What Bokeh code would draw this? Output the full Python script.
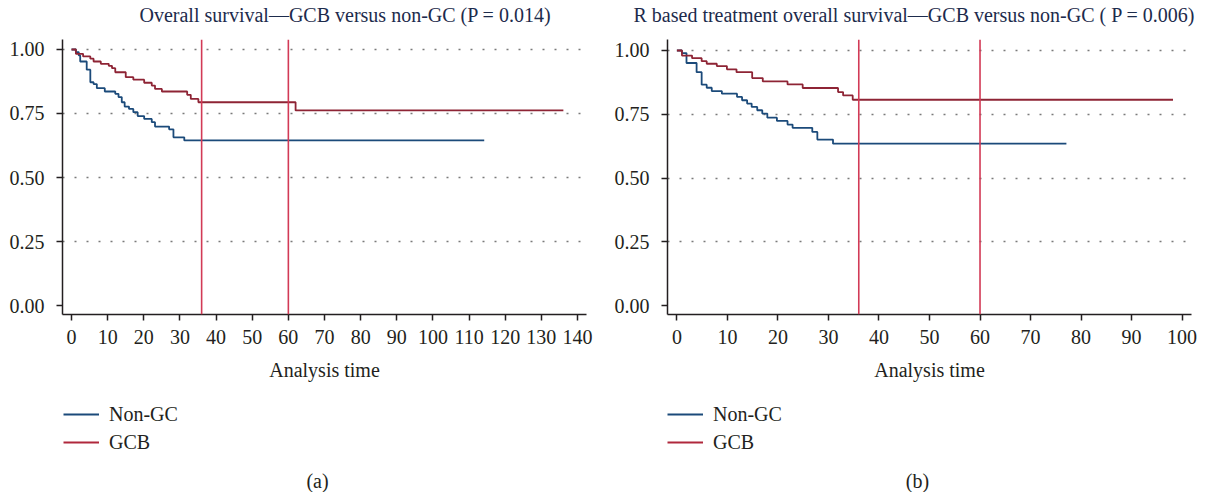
from bokeh.plotting import figure
from bokeh.layouts import row, column
from bokeh.models import (Range1d, FixedTicker, NumeralTickFormatter, Span,
                          Legend, LegendItem, Label)
from bokeh.embed import file_html
from bokeh.resources import INLINE

FONT = "Liberation Serif"
TXT = "#231f20"
TITLE_C = "#1d2b4c"
BLUE = "#1b4a7a"
RED = "#8e2435"
LEG_RED = "#b0283c"
VRED = "#d23a56"
FS = "20px"

# ---------------- data ----------------
# Panel (a): overall survival
a_nongc_t = [1.2, 2.0, 2.4, 4.2, 5.2, 6.1, 7.0, 9.2, 12.1, 13.0, 13.9, 14.7, 15.9,
             17.1, 18.3, 20.1, 22.2, 23.1, 27.0, 28.2, 31.2]
a_nongc_s = [0.990, 0.977, 0.953, 0.921, 0.872, 0.865, 0.849, 0.836, 0.827, 0.814,
             0.794, 0.777, 0.768, 0.755, 0.740, 0.729, 0.716, 0.699, 0.688, 0.657, 0.645]
a_nongc_end = 114.2
a_gcb_t = [1.2, 3.2, 5.2, 6.1, 8.1, 10.3, 11.2, 12.1, 15.0, 17.1, 20.1, 22.2, 23.1,
           25.0, 32.0, 33.0, 35.1, 62.0]
a_gcb_s = [0.983, 0.973, 0.964, 0.953, 0.944, 0.936, 0.927, 0.911, 0.892, 0.882,
           0.870, 0.859, 0.846, 0.836, 0.823, 0.807, 0.794, 0.762]
a_gcb_end = 136.1

# Panel (b): R based treatment overall survival
b_nongc_t = [1.0, 1.9, 3.9, 4.9, 5.9, 6.9, 8.9, 11.9, 12.9, 13.9, 14.8, 15.9, 16.9,
             17.9, 19.8, 21.9, 22.9, 26.8, 27.8, 30.9]
b_nongc_s = [0.990, 0.951, 0.915, 0.866, 0.854, 0.841, 0.831, 0.818, 0.805, 0.792,
             0.779, 0.766, 0.753, 0.737, 0.724, 0.710, 0.697, 0.681, 0.651, 0.635]
b_nongc_end = 77.1
b_gcb_t = [1.0, 3.0, 4.9, 5.9, 7.9, 9.9, 11.8, 14.9, 17.0, 21.9, 24.9, 31.9, 32.9, 34.8]
b_gcb_s = [0.980, 0.970, 0.958, 0.948, 0.939, 0.926, 0.915, 0.892, 0.879, 0.867,
           0.853, 0.837, 0.824, 0.807]
b_gcb_end = 98.2

marker_months = [36, 60]
y_ticks = [0.0, 0.25, 0.5, 0.75, 1.0]
grid_ticks = [0.25, 0.5, 0.75, 1.0]
a_x_ticks = list(range(0, 141, 10))
b_x_ticks = list(range(0, 101, 10))
series_labels = ["Non-GC", "GCB"]
titles = ["Overall survival\u2014GCB versus non-GC (P = 0.014)",
          "R based treatment overall survival\u2014GCB versus non-GC ( P = 0.006)"]
captions = ["(a)", "(b)"]
x_label = "Analysis time"

FRAME_W, FRAME_H = 524, 275
HEAD_TOP, HEAD_FRAME = 24, 1
CHART_TOP, CHART_BOTTOM = 12, 75
FOOT_H = 103


def km(ts, ss, end):
    xs = [0.0] + list(ts) + [end]
    ys = [1.0] + list(ss) + [ss[-1]]
    return xs, ys


def blank(h, mb_left, mb_right, top=0):
    f = figure(frame_width=FRAME_W, frame_height=h,
               x_range=Range1d(0, FRAME_W), y_range=Range1d(h, 0),
               x_axis_type=None, y_axis_type=None, output_backend="svg",
               toolbar_location=None, min_border_left=mb_left, min_border_right=mb_right,
               min_border_top=top, min_border_bottom=0)
    f.outline_line_color = None
    f.background_fill_color = "white"
    f.border_fill_color = "white"
    return f


def panel(xr, yr, xticks, nongc, gcb, title, caption, mb_left, mb_right,
          title_off, caption_x, legend_x):
    # header: the title above a 1px frame
    head = blank(HEAD_FRAME, mb_left, mb_right, top=HEAD_TOP)
    head.title.text = title
    head.title.align = "left"
    head.title.offset = title_off
    head.title.standoff = 2
    head.title.text_font = FONT
    head.title.text_font_size = FS
    head.title.text_font_style = "normal"
    head.title.text_color = TITLE_C

    # the chart itself
    p = figure(frame_width=FRAME_W, frame_height=FRAME_H,
               x_range=Range1d(*xr), y_range=Range1d(*yr),
               output_backend="svg", toolbar_location=None,
               min_border_left=mb_left, min_border_right=mb_right,
               min_border_top=CHART_TOP, min_border_bottom=CHART_BOTTOM)
    p.title.visible = False
    p.outline_line_color = None
    p.background_fill_color = "white"
    p.border_fill_color = "white"

    p.xgrid.visible = False
    p.ygrid.ticker = FixedTicker(ticks=grid_ticks)
    p.ygrid.grid_line_color = "#7a7a7a"
    p.ygrid.grid_line_dash = "2 10"
    p.ygrid.grid_line_width = 1.5

    for ax in (p.xaxis[0], p.yaxis[0]):
        ax.axis_line_color = TXT
        ax.axis_line_width = 1.5
        ax.major_tick_line_color = TXT
        ax.major_tick_line_width = 1.5
        ax.major_tick_out = 6
        ax.major_tick_in = 0
        ax.minor_tick_line_color = None
        ax.major_label_text_font = FONT
        ax.major_label_text_font_size = FS
        ax.major_label_text_color = TXT
    p.xaxis.ticker = FixedTicker(ticks=xticks)
    p.yaxis.ticker = FixedTicker(ticks=y_ticks)
    p.yaxis.formatter = NumeralTickFormatter(format="0.00")
    p.xaxis.major_label_standoff = 9
    p.yaxis.major_label_standoff = 12
    p.xaxis.axis_label = x_label
    p.xaxis.axis_label_text_font = FONT
    p.xaxis.axis_label_text_font_size = FS
    p.xaxis.axis_label_text_font_style = "normal"
    p.xaxis.axis_label_text_color = TXT
    p.xaxis.axis_label_standoff = 12

    xs1, ys1 = km(*nongc)
    p.step(x=xs1, y=ys1, mode="after", line_color=BLUE, line_width=1.8)
    xs2, ys2 = km(*gcb)
    p.step(x=xs2, y=ys2, mode="after", line_color=RED, line_width=1.8)

    for m in marker_months:
        p.add_layout(Span(location=m, dimension="height", line_color=VRED, line_width=1.6))

    # footer: legend and caption
    foot = blank(FOOT_H, mb_left, mb_right)
    foot.title.visible = False
    l1 = foot.step(x=xs1, y=ys1, mode="after", line_color=BLUE, line_width=1.8, visible=False)
    l2 = foot.step(x=xs2, y=ys2, mode="after", line_color=LEG_RED, line_width=1.8, visible=False)
    legend = Legend(items=[LegendItem(label=series_labels[0], renderers=[l1]),
                           LegendItem(label=series_labels[1], renderers=[l2])],
                    location=(legend_x, FOOT_H - 13 - 52), orientation="vertical",
                    border_line_color=None, background_fill_alpha=0,
                    inactive_fill_alpha=0,
                    padding=0, margin=0, glyph_width=36, glyph_height=24,
                    label_height=24, spacing=4, label_standoff=10,
                    label_text_font=FONT, label_text_font_size=FS,
                    label_text_color=TXT)
    foot.add_layout(legend)
    foot.add_layout(Label(x=caption_x, y=91, text=caption, text_font=FONT, text_font_size=FS,
                          text_color=TXT, text_align="center", text_baseline="middle"))

    return column(head, p, foot, spacing=0)


ca = panel((-2.5, 142.5), (-0.035, 1.039), a_x_ticks,
           (a_nongc_t, a_nongc_s, a_nongc_end), (a_gcb_t, a_gcb_s, a_gcb_end),
           titles[0], captions[0], 62, 22, 77, 255, 1)
cb = panel((-1.86, 101.86), (-0.034, 1.043), b_x_ticks,
           (b_nongc_t, b_nongc_s, b_nongc_end), (b_gcb_t, b_gcb_s, b_gcb_end),
           titles[1], captions[1], 59, 18, -34, 250, 0)

layout = row(ca, cb, spacing=0)
open("out.html", "w").write(file_html(layout, INLINE))
